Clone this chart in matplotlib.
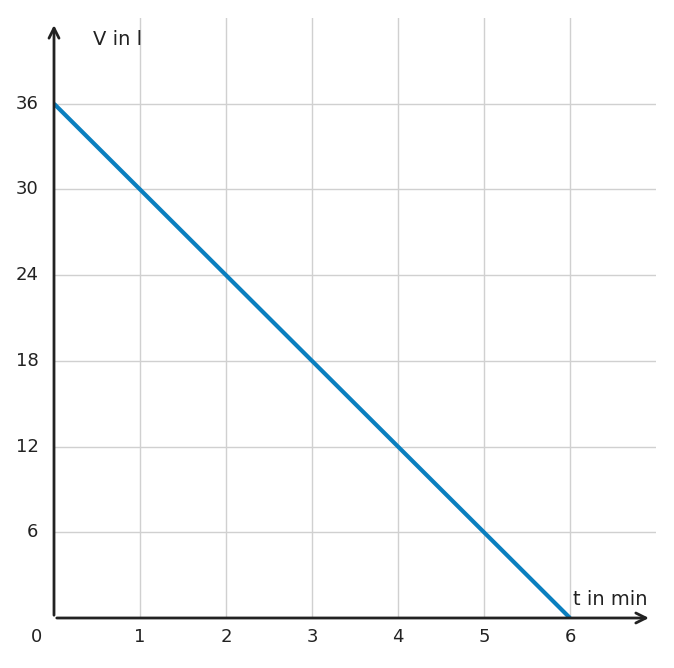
import matplotlib
matplotlib.use("Agg")
import matplotlib.pyplot as plt

t_vals = [0, 6]
v_vals = [36, 0]
x_ticks = [1, 2, 3, 4, 5, 6]
y_ticks = [6, 12, 18, 24, 30, 36]

fig = plt.figure(figsize=(6.74, 6.68), dpi=100)
ax = fig.add_axes([54/674, 50/668, 602/674, 600/668])
ax.set_xlim(0, 7)
ax.set_ylim(0, 42)

for x in x_ticks:
    ax.axvline(x, color='#d0d0d0', lw=1, zorder=0)
for y in y_ticks:
    ax.axhline(y, color='#d0d0d0', lw=1, zorder=0)

ax.plot(t_vals, v_vals, color='#0a7fbf', lw=3, solid_capstyle='butt', zorder=3)

for s in ax.spines.values():
    s.set_visible(False)
ax.set_xticks([])
ax.set_yticks([])

ax.annotate('', xy=(6.95, 0), xytext=(0, 0), xycoords='data',
            arrowprops=dict(arrowstyle='->', lw=2, color='#222222', mutation_scale=18),
            annotation_clip=False)
ax.annotate('', xy=(0, 41.7), xytext=(0, 0), xycoords='data',
            arrowprops=dict(arrowstyle='->', lw=2, color='#222222', mutation_scale=18),
            annotation_clip=False)

for x in x_ticks:
    ax.text(x, -1.3, str(x), ha='center', va='center', fontsize=13, color='#222222')
for y in y_ticks:
    ax.text(-0.18, y, str(y), ha='right', va='center', fontsize=13, color='#222222')
ax.text(-0.2, -1.3, '0', ha='center', va='center', fontsize=13, color='#222222')

ax.text(0.45, 40.5, 'V in l', ha='left', va='center', fontsize=14, color='#222222')
ax.text(6.9, 1.3, 't in min', ha='right', va='center', fontsize=14, color='#222222')

fig.savefig('out.png', dpi=100)
